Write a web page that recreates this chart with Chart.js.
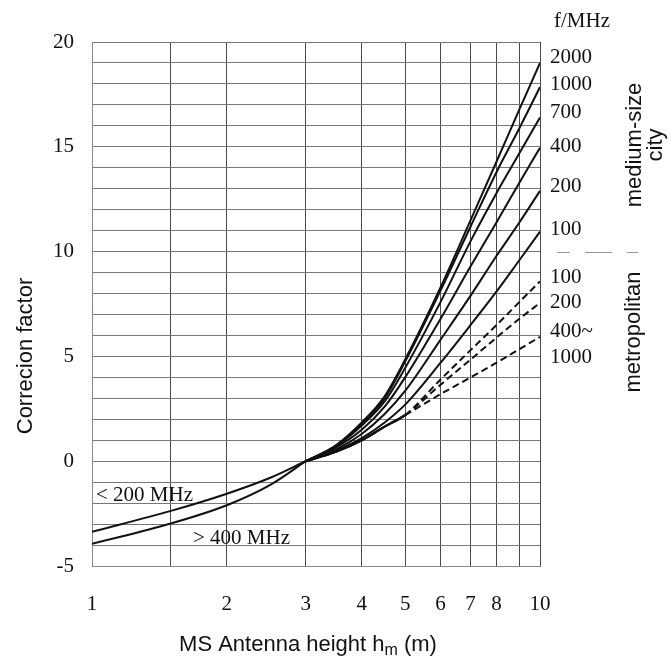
<!DOCTYPE html>
<html>
<head>
<meta charset="utf-8">
<script src="https://cdn.jsdelivr.net/npm/chart.js@4.4.1/dist/chart.umd.min.js"></script>
<style>
  body { margin: 0; background: #fff; }
</style>
</head>
<body>
<canvas id="correction_chart" width="671" height="662"></canvas>
<script>
// antenna heights (m)
const heights_low = [1, 1.5, 2, 2.5, 3];
const heights_high = [3, 3.5, 4, 4.5, 5, 6, 7, 8, 9, 10];

// below 3 m
const below_200 = [-3.37, -2.37, -1.55, -0.79, 0];
const above_400 = [-3.94, -2.97, -2.1, -1.13, 0];

// medium-size city
const medium_2000 = [0, 0.75, 1.85, 3.1, 4.85, 8.3, 11.5, 14.3, 16.8, 19.0];
const medium_1000 = [0, 0.75, 1.8, 3.0, 4.75, 8.15, 11.2, 13.8, 15.9, 17.85];
const medium_700 = [0, 0.7, 1.7, 2.85, 4.45, 7.6, 10.5, 12.8, 14.7, 16.4];
const medium_400 = [0, 0.65, 1.5, 2.6, 4.0, 6.8, 9.3, 11.4, 13.3, 14.95];
const medium_200 = [0, 0.55, 1.3, 2.25, 3.35, 5.8, 7.9, 9.8, 11.4, 12.9];
const medium_100 = [0, 0.5, 1.1, 1.85, 2.7, 4.7, 6.5, 8.1, 9.6, 10.95];

// metropolitan (dashed above 5 m)
const metro_100 = [0, 0.45, 1.0, 1.65, 2.2, 3.9, 5.3, 6.5, 7.6, 8.58];
const metro_200 = [0, 0.45, 1.0, 1.65, 2.2, 3.65, 4.85, 5.9, 6.8, 7.55];
const metro_1000 = [0, 0.45, 1.0, 1.65, 2.2, 3.2, 4.0, 4.7, 5.35, 5.93];

// axis ticks
const x_ticks = [1, 1.5, 2, 3, 4, 5, 6, 7, 8, 9, 10];
const x_tick_labels = ['1', '', '2', '3', '4', '5', '6', '7', '8', '', '10'];

// right hand labels
const medium_labels = ['2000', '1000', '700', '400', '200', '100'];
const metro_labels = ['100', '200', '400~', '1000'];

const serif = '"Liberation Serif", "DejaVu Serif", serif';
const sans = '"Liberation Sans", Arial, sans-serif';
const ink = '#111';

function make_series(label, xs, ys, dashed_from) {
    const series = {
        label: label,
        data: xs.map((x, i) => ({ x: x, y: ys[i] })),
        borderColor: ink,
        borderWidth: 2,
        pointRadius: 0,
        fill: false,
        cubicInterpolationMode: 'monotone',
    };
    if (dashed_from) {
        series.segment = {
            borderDash: ctx => ctx.p0.parsed.x >= dashed_from - 1e-6 ? [7, 4] : undefined,
        };
    }
    return series;
}

const label_plugin = {
    id: 'labels',
    afterDraw(chart) {
        const ctx = chart.ctx;
        ctx.save();
        ctx.fillStyle = ink;
        ctx.textBaseline = 'middle';
        ctx.textAlign = 'left';

        // right side frequency labels
        ctx.font = '21px ' + serif;
        ctx.fillText('f/MHz', 554, 21);
        const medium_y = [57, 84, 112, 146, 186, 229];
        medium_labels.forEach((t, i) => ctx.fillText(t, 550, medium_y[i]));
        const metro_y = [277, 302, 331, 357];
        metro_labels.forEach((t, i) => ctx.fillText(t, 550, metro_y[i]));

        // curve labels
        ctx.fillText('< 200 MHz', 96, 495);
        ctx.fillText('> 400 MHz', 193, 538);

        // separator between the two groups
        ctx.strokeStyle = '#999';
        ctx.lineWidth = 1;
        [[557, 570], [585, 612], [627, 638]].forEach(d => {
            ctx.beginPath();
            ctx.moveTo(d[0], 252.5);
            ctx.lineTo(d[1], 252.5);
            ctx.stroke();
        });

        // rotated group names
        ctx.font = '22px ' + sans;
        ctx.textAlign = 'center';
        ctx.save();
        ctx.translate(635, 145);
        ctx.rotate(-Math.PI / 2);
        ctx.fillText('medium-size', 0, 0);
        ctx.fillText('city', 0, 21);
        ctx.restore();
        ctx.save();
        ctx.translate(634, 332);
        ctx.rotate(-Math.PI / 2);
        ctx.fillText('metropolitan', 0, 0);
        ctx.restore();

        // y title
        ctx.save();
        ctx.translate(26, 356);
        ctx.rotate(-Math.PI / 2);
        ctx.fillText('Correcion factor', 0, 0);
        ctx.restore();

        // x title with subscript
        const part1 = 'MS Antenna height h';
        const part2 = 'm';
        const part3 = ' (m)';
        ctx.textAlign = 'left';
        ctx.font = '22px ' + sans;
        const w1 = ctx.measureText(part1).width;
        const w3 = ctx.measureText(part3).width;
        ctx.font = '16px ' + sans;
        const w2 = ctx.measureText(part2).width;
        let x0 = 308 - (w1 + w2 + w3) / 2;
        ctx.font = '22px ' + sans;
        ctx.fillText(part1, x0, 645);
        ctx.font = '16px ' + sans;
        ctx.fillText(part2, x0 + w1, 651);
        ctx.font = '22px ' + sans;
        ctx.fillText(part3, x0 + w1 + w2, 645);

        ctx.restore();
    }
};

const datasets = [
    make_series('< 200 MHz', heights_low, below_200),
    make_series('> 400 MHz', heights_low, above_400),
    make_series('2000', heights_high, medium_2000),
    make_series('1000', heights_high, medium_1000),
    make_series('700', heights_high, medium_700),
    make_series('400', heights_high, medium_400),
    make_series('200', heights_high, medium_200),
    make_series('100', heights_high, medium_100),
    make_series('metro 100', heights_high, metro_100, 5),
    make_series('metro 200', heights_high, metro_200, 5),
    make_series('metro 400~1000', heights_high, metro_1000, 5),
];

const chart = new Chart(document.getElementById('correction_chart'), {
    type: 'line',
    data: { datasets: datasets },
    options: {
        responsive: false,
        animation: false,
        layout: { padding: { left: 42, right: 131, top: 42, bottom: 46 } },
        plugins: { legend: { display: false }, tooltip: { enabled: false } },
        scales: {
            x: {
                type: 'logarithmic',
                min: 1,
                max: 10,
                afterBuildTicks: scale => { scale.ticks = x_ticks.map(v => ({ value: v })); },
                afterFit: scale => { scale.height = 50; },
                ticks: {
                    autoSkip: false,
                    maxRotation: 0,
                    padding: 26,
                    color: ink,
                    font: { family: serif, size: 21 },
                    callback: (v, i) => x_tick_labels[i],
                },
                grid: { color: '#4a4a4a', lineWidth: 1, drawTicks: false },
                border: { color: '#888' },
            },
            y: {
                min: -5,
                max: 20,
                afterFit: scale => { scale.width = 50; },
                ticks: {
                    stepSize: 1,
                    autoSkip: false,
                    padding: 18,
                    color: ink,
                    font: { family: serif, size: 21 },
                    callback: v => (v % 5 === 0 ? String(v) : ''),
                },
                grid: { color: '#777', lineWidth: 1, drawTicks: false },
                border: { color: '#888' },
            },
        },
    },
    plugins: [label_plugin],
});
</script>
</body>
</html>
